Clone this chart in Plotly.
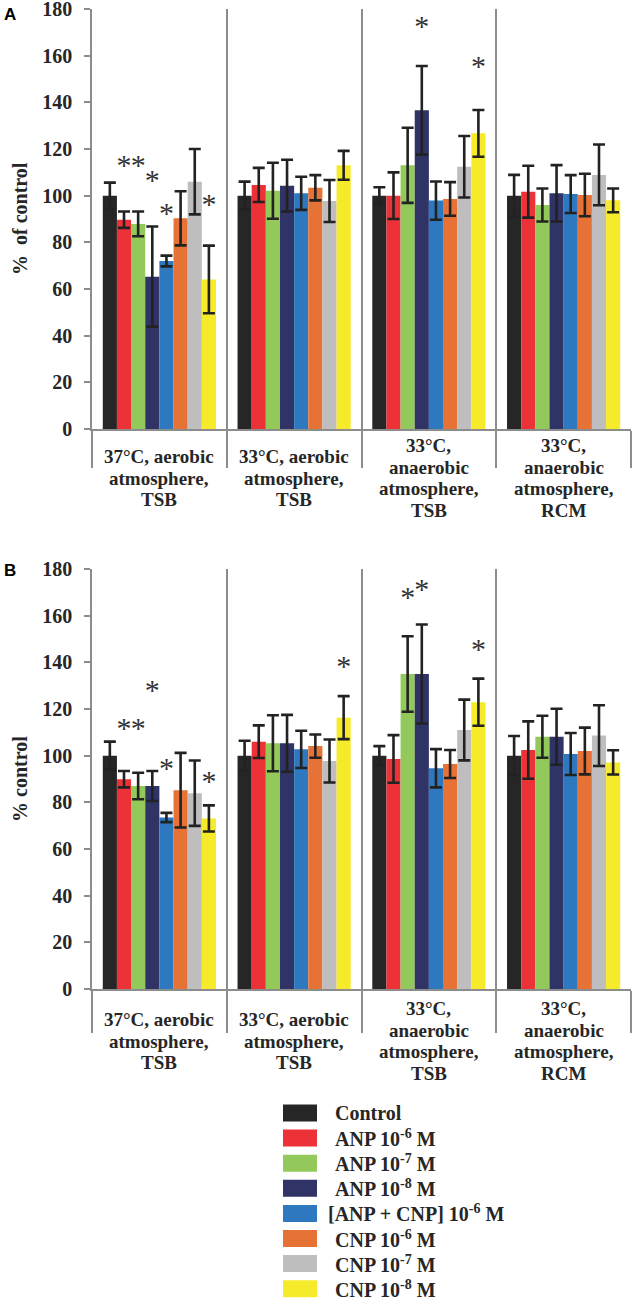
import plotly.graph_objects as go

W, H = 633, 1300

# ---------------- data ----------------
series_names = ["Control", "ANP 10<sup>-6</sup> M", "ANP 10<sup>-7</sup> M", "ANP 10<sup>-8</sup> M",
                "[ANP + CNP] 10<sup>-6</sup> M", "CNP 10<sup>-6</sup> M", "CNP 10<sup>-7</sup> M",
                "CNP 10<sup>-8</sup> M"]
colors = ["#262626", "#ED3237", "#92C95A", "#2F3366", "#2E78BF", "#E77236", "#BEBEBE", "#F5EB2B"]

group_labels = [["37°C, aerobic", "atmosphere,", "TSB"],
                ["33°C, aerobic", "atmosphere,", "TSB"],
                ["33°C,", "anaerobic", "atmosphere,", "TSB"],
                ["33°C,", "anaerobic", "atmosphere,", "RCM"]]

y_ticks = [0, 20, 40, 60, 80, 100, 120, 140, 160, 180]

# Panel A: % of control, rows = series, cols = groups
A_vals = [
    [100, 100, 100, 100],
    [89.7, 104.6, 100, 101.7],
    [87.9, 102.1, 113, 96],
    [65.3, 104.3, 136.6, 101],
    [72, 101, 97.9, 100.7],
    [90.3, 103.4, 98.6, 100.3],
    [106, 97.7, 112.4, 108.9],
    [64.1, 113, 126.7, 98],
]
A_errs = [
    [5.6, 6, 3.6, 8.9],
    [3.5, 7.3, 10, 11.1],
    [5.3, 12, 16.1, 7.1],
    [21.5, 11.1, 19, 12.1],
    [2.3, 7.1, 8.2, 8.1],
    [11.6, 5.4, 7.2, 9.1],
    [14, 9, 13.2, 13],
    [14.5, 6.2, 10, 5.1],
]
# Panel B: % control
B_vals = [
    [100, 100, 100, 100],
    [89.9, 106, 98.6, 102.4],
    [87, 105.3, 135, 108.1],
    [87, 105.3, 135, 108.1],
    [73.5, 102.7, 94.6, 100.7],
    [85.2, 104.1, 96.4, 102],
    [83.9, 97.7, 111, 108.6],
    [73.1, 116.3, 122.9, 97.1],
]
B_errs = [
    [6, 6.4, 4.1, 8.4],
    [3.5, 7, 10.2, 12.3],
    [5.7, 12, 16.2, 9],
    [6.4, 12.2, 21.2, 12],
    [2, 8, 8.2, 9],
    [16, 5, 6, 10],
    [14, 9.2, 13, 13],
    [5.6, 9.2, 10.1, 5.2],
]
# significance stars: (group, series, level)
A_star_group = [0, 0, 0, 0, 0, 2, 2]
A_star_series = [1, 2, 3, 4, 7, 3, 7]
A_star_y = [114, 114, 107.6, 93.4, 97.3, 173.8, 156.7]
B_star_group = [0, 0, 0, 0, 0, 1, 2, 2, 2]
B_star_series = [1, 2, 3, 4, 7, 7, 2, 3, 7]
B_star_y = [113, 113, 128.9, 95.5, 89.9, 139.3, 168.9, 172.4, 146.7]

# ---------------- layout constants ----------------
GRAY = "#8c8c8c"
TXT = "#262626"
SERIF = "Liberation Serif"
BARGAP = 0.16
STAR_DROP = 2.0   # glyph sits high in its text box; compensate (data units)
n_series = len(series_names)
bar_w = (1 - BARGAP) / n_series
x_left, x_right = 92, 631
panels = [
    dict(vals=A_vals, errs=A_errs, sg=A_star_group, ss=A_star_series, sy=A_star_y,
         top=9, bottom=429, ticklen=37, label_c=478, title="%\u00a0 of control", letter="A", letter_y=15),
    dict(vals=B_vals, errs=B_errs, sg=B_star_group, ss=B_star_series, sy=B_star_y,
         top=569, bottom=989, ticklen=42, label_c=1041, title="% control", letter="B", letter_y=570),
]

fig = go.Figure()
annotations = []
shapes = []
groups_x = list(range(len(group_labels)))

for p, P in enumerate(panels):
    xa = "x" if p == 0 else "x2"
    ya = "y" if p == 0 else "y2"
    for i in range(n_series):
        fig.add_trace(go.Bar(
            x=groups_x, y=P["vals"][i], name=series_names[i],
            marker=dict(color=colors[i], line=dict(width=0)),
            error_y=dict(type="data", array=P["errs"][i], visible=True,
                         color="#222222", thickness=2.6, width=6),
            xaxis=xa, yaxis=ya, showlegend=False, offsetgroup=str(i),
        ))
    sx = [g + (s - (n_series - 1) / 2) * bar_w for g, s in zip(P["sg"], P["ss"])]
    fig.add_trace(go.Scatter(
        x=sx, y=[v - STAR_DROP for v in P["sy"]], mode="text", text=["*"] * len(sx),
        textposition="middle center",
        textfont=dict(family=SERIF, size=30, color="#333333"),
        xaxis=xa, yaxis=ya, showlegend=False, hoverinfo="skip", cliponaxis=False,
    ))

    dom_y = [1 - P["bottom"] / H, 1 - P["top"] / H]
    axis_x = dict(domain=[x_left / W, x_right / W], range=[-0.5, 3.5], type="linear",
                  tickvals=[-0.5, 0.5, 1.5, 2.5, 3.5], showticklabels=False,
                  ticks="outside", ticklen=P["ticklen"], tickcolor=GRAY, tickwidth=1.5,
                  showgrid=True, gridcolor=GRAY, gridwidth=1.5,
                  showline=True, linecolor=GRAY, linewidth=1.5, zeroline=False,
                  anchor=ya, fixedrange=True, automargin=False)
    axis_y = dict(domain=dom_y, range=[0, 180], tickvals=y_ticks,
                  ticks="outside", ticklen=6, tickcolor=GRAY, tickwidth=1.5,
                  showline=True, linecolor=GRAY, linewidth=1.5, showgrid=False,
                  zeroline=False, anchor=xa, ticklabelstandoff=8, automargin=False,
                  ticklabeloverflow="allow",
                  tickfont=dict(family=SERIF, size=20, color=TXT, weight="bold"))
    if p == 0:
        fig.update_layout(xaxis=axis_x, yaxis=axis_y)
    else:
        fig.update_layout(xaxis2=axis_x, yaxis2=axis_y)

    # category labels (one annotation per line)
    for g, lines in enumerate(group_labels):
        n = len(lines)
        for k, line in enumerate(lines):
            ypix = P["label_c"] + (k - (n - 1) / 2) * 21.5
            annotations.append(dict(x=g, xref=xa, y=1 - ypix / H, yref="paper",
                                    text=line, showarrow=False, xanchor="center", yanchor="middle",
                                    font=dict(family=SERIF, size=19, color=TXT, weight="bold")))
    # y title
    annotations.append(dict(x=20 / W, xref="paper", y=1 - (P["top"] + P["bottom"]) / 2 / H, yref="paper",
                            text=P["title"], textangle=-90, showarrow=False,
                            xanchor="center", yanchor="middle",
                            font=dict(family=SERIF, size=20, color=TXT, weight="bold")))
    # panel letter
    annotations.append(dict(x=10 / W, xref="paper", y=1 - P["letter_y"] / H, yref="paper",
                            text=P["letter"], showarrow=False, xanchor="center", yanchor="middle",
                            font=dict(family="Liberation Sans", size=17, color="#000000", weight="bold")))

# manual legend
for i, name in enumerate(series_names):
    yc = 1113 + i * 25.1
    shapes.append(dict(type="rect", xref="paper", yref="paper",
                       x0=283 / W, x1=317 / W, y0=1 - (yc - 8.5) / H, y1=1 - (yc + 8.5) / H,
                       fillcolor=colors[i], line=dict(width=0)))
    annotations.append(dict(x=333 / W, xref="paper", y=1 - yc / H, yref="paper",
                            text=name, showarrow=False, xanchor="left", yanchor="middle",
                            xshift=-7 if name.startswith("[") else 0,
                            font=dict(family=SERIF, size=20, color=TXT, weight="bold")))

fig.update_layout(
    width=W, height=H, margin=dict(l=0, r=0, t=0, b=0, pad=0, autoexpand=False),
    paper_bgcolor="white", plot_bgcolor="white",
    barmode="group", bargap=BARGAP, bargroupgap=0,
    annotations=annotations, shapes=shapes,
)

fig.write_html(
    "out.html",
    config={"responsive": False, "displayModeBar": False},
    post_script="document.documentElement.style.margin='0';document.body.style.margin='0';"
                "document.body.style.padding='0';document.body.style.overflow='hidden';",
)
